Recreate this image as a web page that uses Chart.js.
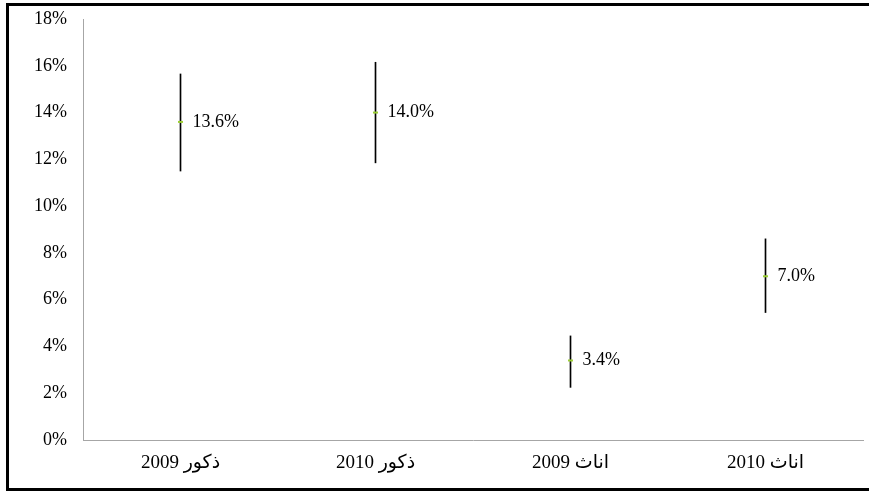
<!DOCTYPE html>
<html>
<head>
<meta charset="utf-8">
<script src="https://cdn.jsdelivr.net/npm/chart.js@4/dist/chart.umd.min.js"></script>
<style>
  html, body { margin: 0; padding: 0; background: #fff; overflow: hidden; }
  #wrap { width: 869px; height: 493px; position: relative; overflow: hidden; }
  canvas { display: block; }
</style>
</head>
<body>
<div id="wrap"><canvas id="c" width="869" height="493"></canvas></div>
<script>
// ---- data ----
const categories = ['ذكور 2009', 'ذكور 2010', 'اناث 2009', 'اناث 2010'];
const meanValues = [13.6, 14.0, 3.4, 7.0];
const highValues = [15.65, 16.15, 4.45, 8.6];
const lowValues  = [11.5, 11.85, 2.25, 5.45];
const yTicks = [0, 2, 4, 6, 8, 10, 12, 14, 16, 18];

const serif = '"Liberation Serif", "Times New Roman", "DejaVu Sans", serif';

const rangeData = categories.map((c, i) => [lowValues[i], highValues[i]]);

const framePlugin = {
  id: 'frame',
  beforeDraw(chart) {
    const ctx = chart.ctx;
    ctx.save();
    ctx.fillStyle = '#fff';
    ctx.fillRect(0, 0, chart.width, chart.height);
    ctx.fillStyle = '#000';
    ctx.fillRect(6, 3, chart.width, 3);     // top
    ctx.fillRect(6, 3, 3, 488);             // left
    ctx.fillRect(6, 488, chart.width, 3);   // bottom
    ctx.restore();
  }
};

const labelPlugin = {
  id: 'valueLabels',
  afterDatasetsDraw(chart) {
    const meta = chart.getDatasetMeta(1);
    const ctx = chart.ctx;
    ctx.save();
    ctx.font = '18px ' + serif;
    ctx.fillStyle = '#000';
    ctx.textAlign = 'left';
    ctx.textBaseline = 'middle';
    meta.data.forEach((el, i) => {
      ctx.fillText(meanValues[i].toFixed(1) + '%', el.x + 12, el.y);
    });
    ctx.restore();
  }
};

new Chart(document.getElementById('c'), {
  type: 'bar',
  data: {
    labels: categories,
    datasets: [
      {
        type: 'bar',
        data: rangeData,
        backgroundColor: '#000',
        borderWidth: 0,
        barThickness: 1,
        order: 2
      },
      {
        type: 'line',
        data: meanValues,
        showLine: false,
        pointStyle: 'line',
        pointRadius: 2.5,
        pointBorderWidth: 2,
        pointBorderColor: '#9acd32',
        pointBackgroundColor: '#9acd32',
        order: 1
      }
    ]
  },
  options: {
    responsive: false,
    animation: false,
    events: [],
    layout: { padding: { left: 0, right: 4, top: 19, bottom: 0 } },
    plugins: {
      legend: { display: false },
      tooltip: { enabled: false }
    },
    scales: {
      x: {
        offset: true,
        grid: { display: false, drawTicks: false },
        border: { display: true, color: '#a6a6a6', width: 1 },
        ticks: {
          color: '#000',
          font: { family: serif, size: 19 },
          padding: 12,
          maxRotation: 0
        },
        afterFit(scale) { scale.height = 53; scale.paddingLeft = 0; scale.paddingRight = 0; }
      },
      y: {
        min: 0,
        max: 18,
        grid: { display: false, drawTicks: false },
        border: { display: true, color: '#a6a6a6', width: 1 },
        afterBuildTicks(scale) { scale.ticks = yTicks.map(v => ({ value: v })); },
        ticks: {
          color: '#000',
          font: { family: serif, size: 18 },
          padding: 16,
          callback: v => v + '%'
        },
        afterFit(scale) { scale.width = 83; scale.paddingTop = 0; scale.paddingBottom = 0; }
      }
    }
  },
  plugins: [framePlugin, labelPlugin]
});
</script>
</body>
</html>
